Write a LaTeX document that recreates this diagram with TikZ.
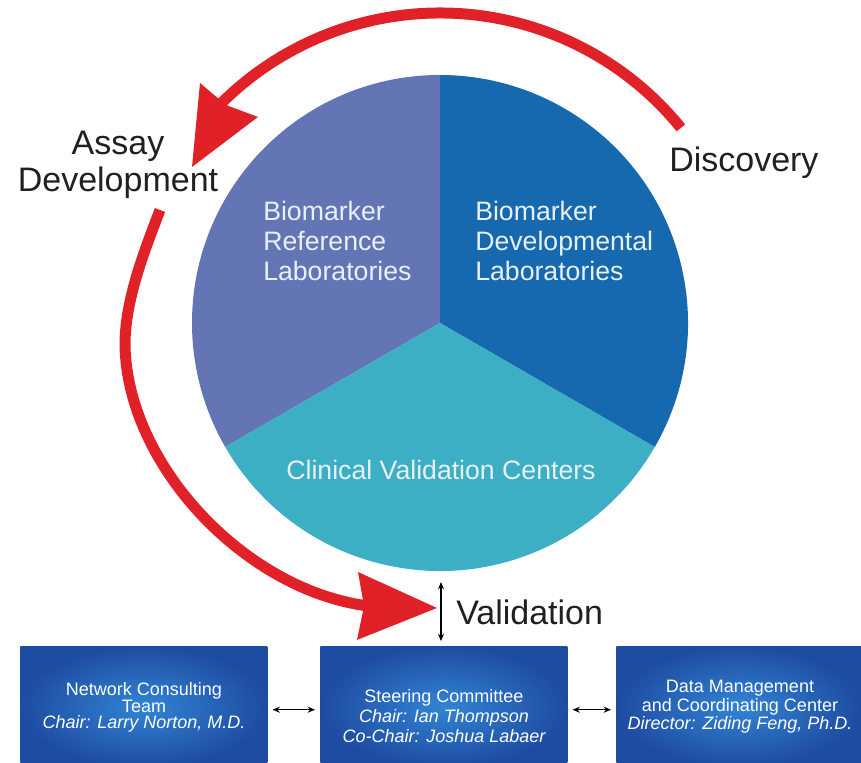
\documentclass[tikz,border=0pt]{standalone}
\usepackage{fontspec}
\setmainfont{Liberation Sans}
\usetikzlibrary{arrows.meta}
\definecolor{arrowred}{RGB}{224,34,40}
\definecolor{secleft}{RGB}{100,117,182}
\definecolor{secright}{RGB}{22,104,175}
\definecolor{secbottom}{RGB}{60,175,196}
\definecolor{boxin}{RGB}{50,132,212}
\definecolor{boxout}{RGB}{30,76,162}
\definecolor{labelgray}{RGB}{35,31,32}
\definecolor{pietext}{RGB}{232,240,250}
\begin{document}
\begin{tikzpicture}[x=0.75pt,y=0.75pt,
  lbl/.style={font=\fontsize{25.5}{30}\selectfont, text=labelgray, inner sep=0pt},
  pietxt/.style={font=\fontsize{20}{24}\selectfont, text=pietext, inner sep=0pt},
  boxtxt/.style={font=\fontsize{13.5}{16}\selectfont, text=white, inner sep=0pt},
  boxit/.style={boxtxt, font=\fontsize{13.5}{16}\selectfont\itshape},
  orgbox/.style={inner color=boxin, outer color=boxout, inner sep=0pt, minimum height=90pt, anchor=south west},
  cyclearrow/.style={draw=arrowred, line width=8.25pt},
  headfill/.style={fill=arrowred},
  link/.style={{Stealth[length=5.5pt,width=4.5pt]}-{Stealth[length=5.5pt,width=4.5pt]}, line width=1pt, black}
]
\useasboundingbox (0,0) rectangle (861,763);

% pie
\coordinate (pc) at (440,440);
\fill[secleft]   (pc) -- ++(90:248)  arc[start angle=90,  end angle=210, radius=248] -- cycle;
\fill[secright]  (pc) -- ++(-30:248) arc[start angle=-30, end angle=90,  radius=248] -- cycle;
\fill[secbottom] (pc) -- ++(210:248) arc[start angle=210, end angle=330, radius=248] -- cycle;

\node[pietxt, anchor=base west] (rl1) at (263,542) {Biomarker};
\node[pietxt, anchor=base west] (rl2) at (263,512) {Reference};
\node[pietxt, anchor=base west] (rl3) at (263,482) {Laboratories};
\node[pietxt, anchor=base west] (dl1) at (475,542) {Biomarker};
\node[pietxt, anchor=base west] (dl2) at (475,512) {Developmental};
\node[pietxt, anchor=base west] (dl3) at (475,482) {Laboratories};
\node[pietxt, anchor=base] (cvc) at (441,283) {Clinical Validation Centers};

% top cycle arrow
\draw[cyclearrow] (680.9,635.1) arc[start angle=39, end angle=135, radius=310];
\fill[headfill] (192,596) -- (200,680) -- (226,658) -- (258,646) -- cycle;

% bottom cycle arrow
\draw[cyclearrow] (160,553) .. controls (144,511) and (125,463) .. (125,418)
                  .. controls (127,298) and (245,173) .. (368,157);
\fill[headfill] (437,155) -- (358,191) -- (364,157) -- (357,123) -- cycle;

% labels
\node[lbl, anchor=base] (assay) at (118,608) {Assay};
\node[lbl, anchor=base] (devel) at (118,571) {Development};
\node[lbl, anchor=base west] (disc) at (669,591) {Discovery};
\node[lbl, anchor=base west] (valid) at (456,138) {Validation};

% boxes
\node[orgbox, minimum width=185.25pt] (b1) at (20,-4) {};
\node[orgbox, minimum width=185.25pt] (b2) at (320,-4) {};
\node[orgbox, minimum width=183.75pt] (b3) at (616,-4) {};

\node[boxtxt, anchor=base] (b1a) at (144,67) {Network Consulting};
\node[boxtxt, anchor=base] (b1b) at (144,50) {Team};
\node[boxit, anchor=base] (b1c) at (144,34) {Chair: Larry Norton, M.D.};

\node[boxtxt, anchor=base] (b2a) at (444,60) {Steering Committee};
\node[boxit, anchor=base] (b2b) at (444,40) {Chair: Ian Thompson};
\node[boxit, anchor=base] (b2c) at (444,20) {Co-Chair: Joshua Labaer};

\node[boxtxt, anchor=base] (b3a) at (740,70) {Data Management};
\node[boxtxt, anchor=base] (b3b) at (740,51) {and Coordinating Center};
\node[boxit, anchor=base] (b3c) at (740,33) {Director: Ziding Feng, Ph.D.};

% connectors
\draw[link, shorten <=3.75pt, shorten >=3.75pt] ([yshift=-2.25pt]b1.east) -- ([yshift=-2.25pt]b2.west);
\draw[link, shorten <=3.75pt, shorten >=3.75pt] ([yshift=-2.25pt]b2.east) -- ([yshift=-2.25pt]b3.west);
\coordinate (vtop) at (441,181);
\draw[link, shorten >=4pt] (vtop) -- (vtop |- b2.north);
\end{tikzpicture}
\end{document}
